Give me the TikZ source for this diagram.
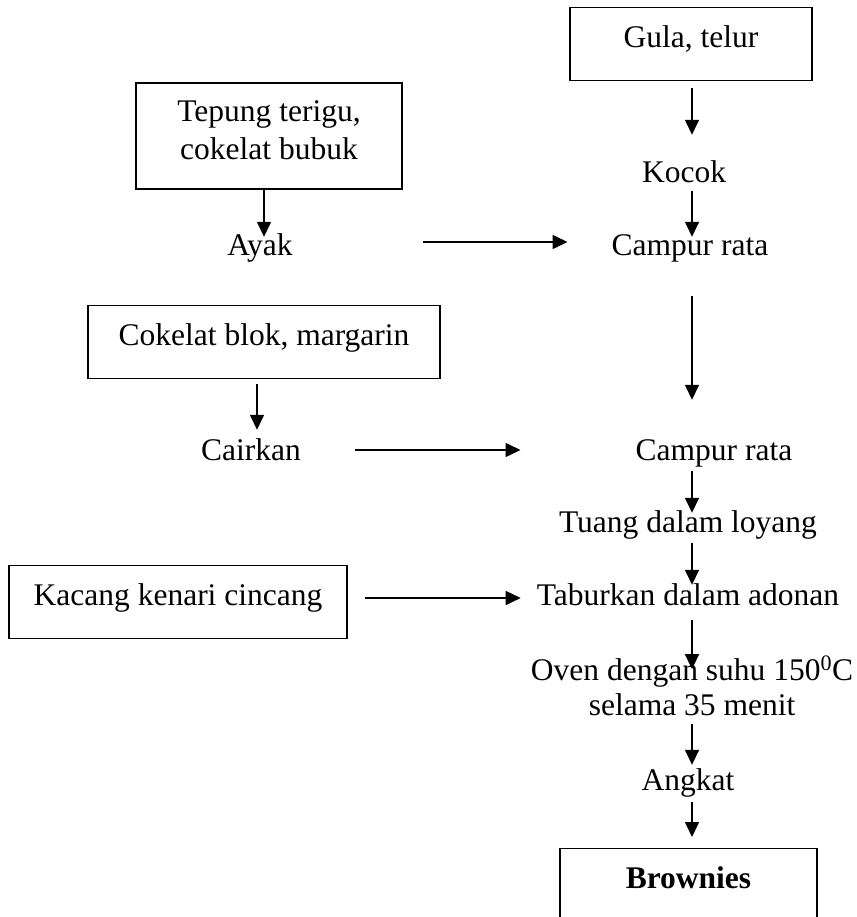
\documentclass[tikz,border=0pt]{standalone}
\usepackage{fontspec}
\setmainfont{Liberation Serif}
\usetikzlibrary{arrows.meta}
\begin{document}
\begin{tikzpicture}[x=1pt,y=-1pt,
  every node/.style={font=\fontsize{31.5}{36}\selectfont, inner sep=0pt},
  lbl/.style={anchor=base, text height=21pt, text depth=7pt},
  frame/.style={draw, line width=1.4pt},
  box/.style={frame, anchor=north, text height=40pt, text depth=33pt},
  arr/.style={line width=1.5pt, -{Triangle[length=15pt,width=14pt]}}]
\useasboundingbox (0,0) rectangle (856,917);
\clip (0,0) rectangle (856,917);
\coordinate (col) at (692,0);
\coordinate (colL) at (264,0);
\coordinate (colC) at (257,0);
% nodes
\node[box, minimum width=242pt] (gula) at (691,7) {Gula, telur};
\node[frame, minimum width=266pt, minimum height=106pt, align=center, text depth=11pt,
      font=\fontsize{31.5}{38}\selectfont] (tepung) at (269,136) {Tepung terigu,\\cokelat bubuk};
\node[lbl] (kocok) at (684,183) {Kocok};
\node[lbl] (ayak) at (260,255) {Ayak};
\node[lbl] (campurA) at (690,255) {Campur rata};
\node[box, minimum width=352pt] (blok) at (264,305) {Cokelat blok, margarin};
\node[lbl] (cair) at (251,460) {Cairkan};
\node[lbl] (campurB) at (714,460) {Campur rata};
\node[lbl] (tuang) at (688,532) {Tuang dalam loyang};
\node[box, minimum width=338pt] (kacang) at (178,565) {Kacang kenari cincang};
\node[lbl] (tabur) at (688,605) {Taburkan dalam adonan};
\node[align=center, anchor=base, font=\fontsize{31.5}{35}\selectfont] (oven) at (692,715)
  {Oven dengan suhu 150\textsuperscript{0}C\\selama 35 menit};
\node[lbl] (angkat) at (688,790) {Angkat};
\node[box, minimum width=257pt, text depth=100pt,
      font=\fontsize{31.5}{36}\selectfont\bfseries] (brown) at (688.5,848) {Brownies};
% connectors
\draw[arr, shorten <=7pt, shorten >=27pt] (col |- gula.south) -- (col |- kocok.north);
\draw[arr, shorten <=1pt, shorten >=-3pt] (col |- kocok.south) -- (col |- campurA.north);
\draw[arr, shorten >=-3pt] (colL |- tepung.south) -- (colL |- ayak.north);
\draw[arr, shorten <=130pt, shorten >=44pt] ([yshift=6pt]ayak.east) -- ([yshift=6pt]campurA.west);
\draw[arr, shorten <=34pt, shorten >=39pt] (col |- campurA.south) -- (col |- campurB.north);
\draw[arr, shorten <=5pt, shorten >=9pt] (colC |- blok.south) -- (colC |- cair.north);
\draw[arr, shorten <=54pt, shorten >=115pt] ([yshift=3pt]cair.east) -- ([yshift=3pt]campurB.west);
\draw[arr, shorten <=4pt, shorten >=-2pt] (col |- campurB.south) -- (col |- tuang.north);
\draw[arr, shorten <=4pt, shorten >=-1pt] (col |- tuang.south) -- (col |- tabur.north);
\draw[arr, shorten <=17pt, shorten >=16pt] (kacang.east |- tabur.west) -- (tabur.west);
\draw[arr, shorten <=8pt, shorten >=-13pt] (col |- tabur.south) -- (col |- oven.north);
\draw[arr, shorten <=8pt, shorten >=4pt] (col |- oven.south) -- (col |- angkat.north);
\draw[arr, shorten <=5pt, shorten >=11pt] (col |- angkat.south) -- (col |- brown.north);
\end{tikzpicture}
\end{document}
